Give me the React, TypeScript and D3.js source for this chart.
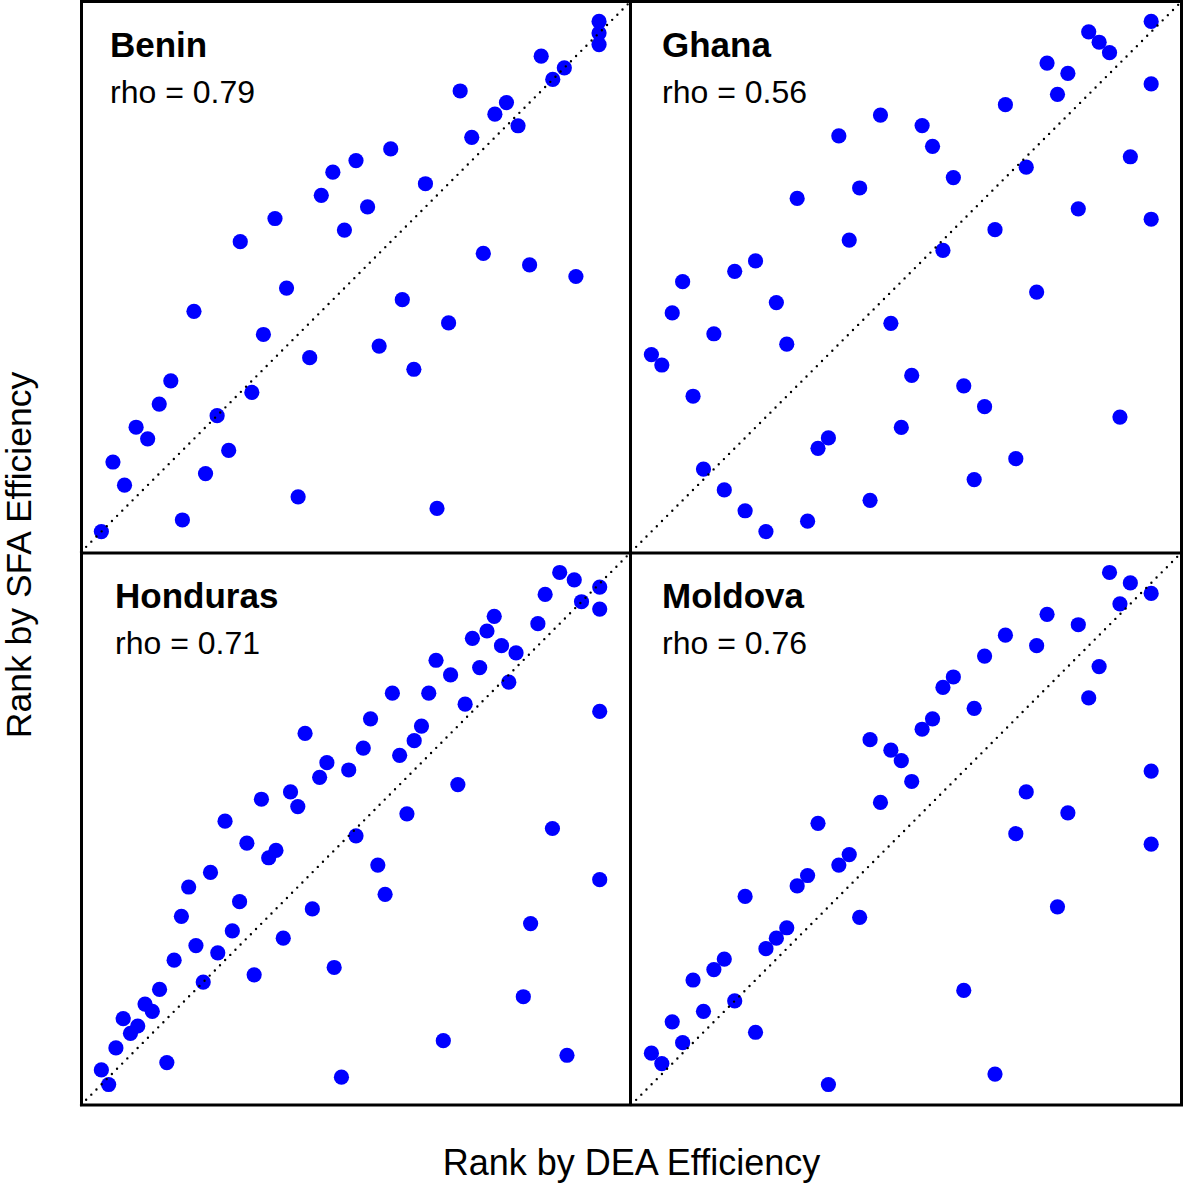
import React from 'react';
import * as d3 from 'd3';

// ---- data (ranks) ----
const countries = ['Benin', 'Ghana', 'Honduras', 'Moldova'];
const rhoLabels = ['rho = 0.79', 'rho = 0.56', 'rho = 0.71', 'rho = 0.76'];

const beninSFA = [1,2,3,4,5,6,7,8,9,10,11,12,13,14,15,16,17,18,19,20,21,22,23,24,25,26,27,28,29,30,31,32,33,34,35,36,37,38,39,40,41,42,43,44,45];
const beninDEA = [1,8,30,18,3,10,2,12,5,4,11,6,14,7,28,19,25,15,31,9,27,17,42,38,34,13,22,16,24,20,29,21,23,26,33,37,35,36,32,40,41,39,44,44,44];

const ghanaSFA = [1,2,3,4,5,6,7,8,9,10,11,12,13,14,15,16,17,18,19,20,21,22,23,24,25,26,27,28,29,30,31,32,33,34,35,36,37,38,39,40,41,42,43,44,45,46,47,48,49,50];
const ghanaDEA = [12,16,10,22,8,32,6,36,17,18,25,46,33,5,31,26,2,1,14,7,24,3,13,38,4,9,11,29,20,34,49,42,15,21,30,37,47,28,19,27,23,35,40,49,41,39,45,44,43,49];

const hondurasSFA = [1,2,3,4,5,6,7,8,9,10,11,12,13,14,15,16,17,18,19,20,21,22,23,24,25,26,27,28,29,30,31,32,33,34,35,36,37,38,39,40,41,42,43,44,45,46,47,48,49,50,51,52,53,54.5,54.5,56,57,58,59,60,61,62,63,64,65,66,67,68,69,70,71];
const hondurasDEA = [2,34,1,10,65,3,48,5,6,4,8,7,59,9,15,22,33,11,17,14,26,19,60,12,30,20,40,13,69.5,16,39,24,25,21,36,63,18,43,28,23,27,50,31,35,32,42,37,44,29,45,38,69.5,51,41,46,57,49,53,47,58,56,52,54,61,55,69.5,67,62,69.5,66,64];

const moldovaSFA = [1,2,3,4,5,6,7,8,9,10,11,12,13,14,15,16,17,18,19,20,21,22,23,24,25,26,27,28,29,30,31,32,33,34,35,36,37,38,39,40,41,42,43,44,45,46,47,48,49,50];
const moldovaDEA = [18,34,2,1,4,11,3,6,9,31,5,7,8,12,13,14,21,40,10,15,16,19,20,49,36,17,41,23,37,26,49,25,24,22,27,28,32,43,29,30,44,33,38,35,42,39,46,49,47,45];

const seriesDEA = [beninDEA, ghanaDEA, hondurasDEA, moldovaDEA];
const seriesSFA = [beninSFA, ghanaSFA, hondurasSFA, moldovaSFA];

// ---- layout ----
const FONT = '"Liberation Sans", Arial, Helvetica, sans-serif';
const cols: [number, number][] = [[81, 631], [631, 1182]];
const rows: [number, number][] = [[1, 552], [552, 1105]];
const titleX = [110, 662, 115, 662];

function Panel({ idx }: { idx: number }) {
  const dea = seriesDEA[idx];
  const sfa = seriesSFA[idx];
  const [x0, x1] = cols[idx % 2];
  const [y0, y1] = rows[Math.floor(idx / 2)];
  const n = dea.length;
  const pad = 0.04 * (n - 1);
  const dom: [number, number] = [1 - pad, n + pad];
  const xs = d3.scaleLinear().domain(dom).range([x0, x1]);
  const ys = d3.scaleLinear().domain(dom).range([y1, y0]);
  const pts = dea.map((d, i) => [d, sfa[i]]);
  const lineGen = d3.line<number[]>().x(d => xs(d[0])).y(d => ys(d[1]));
  return (
    <g>
      <g fill="#0000FF">
        {pts.map((p, i) => (
          <circle key={i} cx={xs(p[0])} cy={ys(p[1])} r={7.6} />
        ))}
      </g>
      <path
        d={lineGen([[dom[0], dom[0]], [dom[1], dom[1]]]) || ''}
        stroke="#000"
        strokeWidth={2.4}
        strokeLinecap="round"
        strokeDasharray="0 7.3"
        fill="none"
      />
      <text x={titleX[idx]} y={y0 + 56} fontFamily={FONT} fontWeight="bold" fontSize={35} fill="#000">
        {countries[idx]}
      </text>
      <text x={titleX[idx]} y={y0 + 102} fontFamily={FONT} fontSize={32} fill="#000">
        {rhoLabels[idx]}
      </text>
    </g>
  );
}

export default function App() {
  return (
    <svg
      width={1183}
      height={1183}
      style={{ position: 'absolute', left: 0, top: 0, background: '#fff' }}
    >
      <rect x={0} y={0} width={1183} height={1183} fill="#fff" />
      {[0, 1, 2, 3].map(i => <Panel key={i} idx={i} />)}
      <g stroke="#000" strokeWidth={3} fill="none">
        <rect x={81.5} y={1.5} width={1100} height={1103.5} />
        <line x1={630.5} y1={1.5} x2={630.5} y2={1105} />
        <line x1={81.5} y1={553} x2={1181.5} y2={553} />
      </g>
      <text x={631.5} y={1175} textAnchor="middle" fontFamily={FONT} fontSize={36} fill="#000">
        Rank by DEA Efficiency
      </text>
      <text
        transform="translate(31,555) rotate(-90)"
        textAnchor="middle"
        fontFamily={FONT}
        fontSize={35.5}
        fill="#000"
      >
        Rank by SFA Efficiency
      </text>
    </svg>
  );
}
